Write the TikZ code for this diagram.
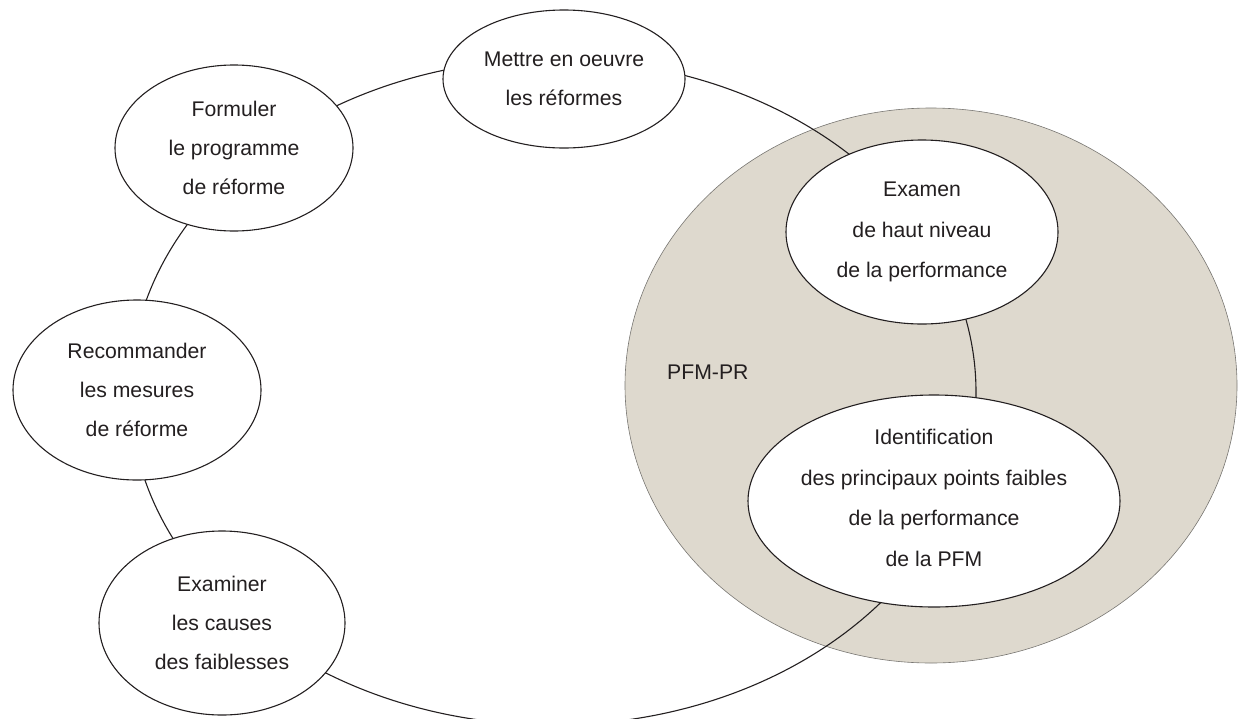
\documentclass[tikz,border=0pt]{standalone}
\usepackage{fontspec}
\setmainfont{Liberation Sans}
\usetikzlibrary{shapes.geometric}
\definecolor{pfmgrey}{RGB}{222,217,206}
\definecolor{pfmedge}{RGB}{120,118,114}
\definecolor{txt}{RGB}{35,31,32}
\begin{document}
\begin{tikzpicture}[x=1pt,y=-1pt,
  stage/.style={ellipse, draw=txt, line width=1.1pt, fill=white, inner sep=0pt},
  stagetext/.style={align=center, text=txt, inner sep=0pt, font=\fontsize{21.2}{39}\selectfont},
  stagetextwide/.style={stagetext, font=\fontsize{21.2}{40.5}\selectfont},
  cycleline/.style={draw=txt, line width=1.1pt},
  zone/.style={fill=pfmgrey, draw=pfmedge, line width=0.6pt}
]
\useasboundingbox (0,0) rectangle (1239,718);
\clip (0,0) rectangle (1239,718);
% PFM-PR zone
\path[zone] (931,385.5) ellipse [x radius=306pt, y radius=277.5pt];
% reform cycle
\path[cycleline] (553,392) ellipse [x radius=423pt, y radius=333pt];
% stages
\node[stage, minimum width=242pt, minimum height=138pt] (mettre) at (564,79) {};
\node[stage, minimum width=238pt, minimum height=166pt] (formuler) at (234,148) {};
\node[stage, minimum width=248pt, minimum height=180pt] (recommander) at (137,390) {};
\node[stage, minimum width=246pt, minimum height=184pt] (examiner) at (222,623) {};
\node[stage, minimum width=272pt, minimum height=184pt] (examen) at (922,232) {};
\node[stage, minimum width=372pt, minimum height=212pt] (ident) at (934,501) {};
% texts
\node[stagetext] (mettre-t) at (mettre.center) {Mettre en oeuvre\\les réformes};
\node[stagetext] (formuler-t) at (formuler.center) {Formuler\\le programme\\de réforme};
\node[stagetext] (recommander-t) at (recommander.center) {Recommander\\les mesures\\de réforme};
\node[stagetext] (examiner-t) at (examiner.center) {Examiner\\les causes\\des faiblesses};
\node[stagetextwide] (examen-t) at (examen.center) {Examen\\de haut niveau\\de la performance};
\node[stagetextwide] (ident-t) at ([yshift=3pt]ident.center) {Identification\\des principaux points faibles\\de la performance\\de la PFM};
\node[stagetext, anchor=west] (pfmpr) at (667,372) {PFM-PR};
\end{tikzpicture}
\end{document}
